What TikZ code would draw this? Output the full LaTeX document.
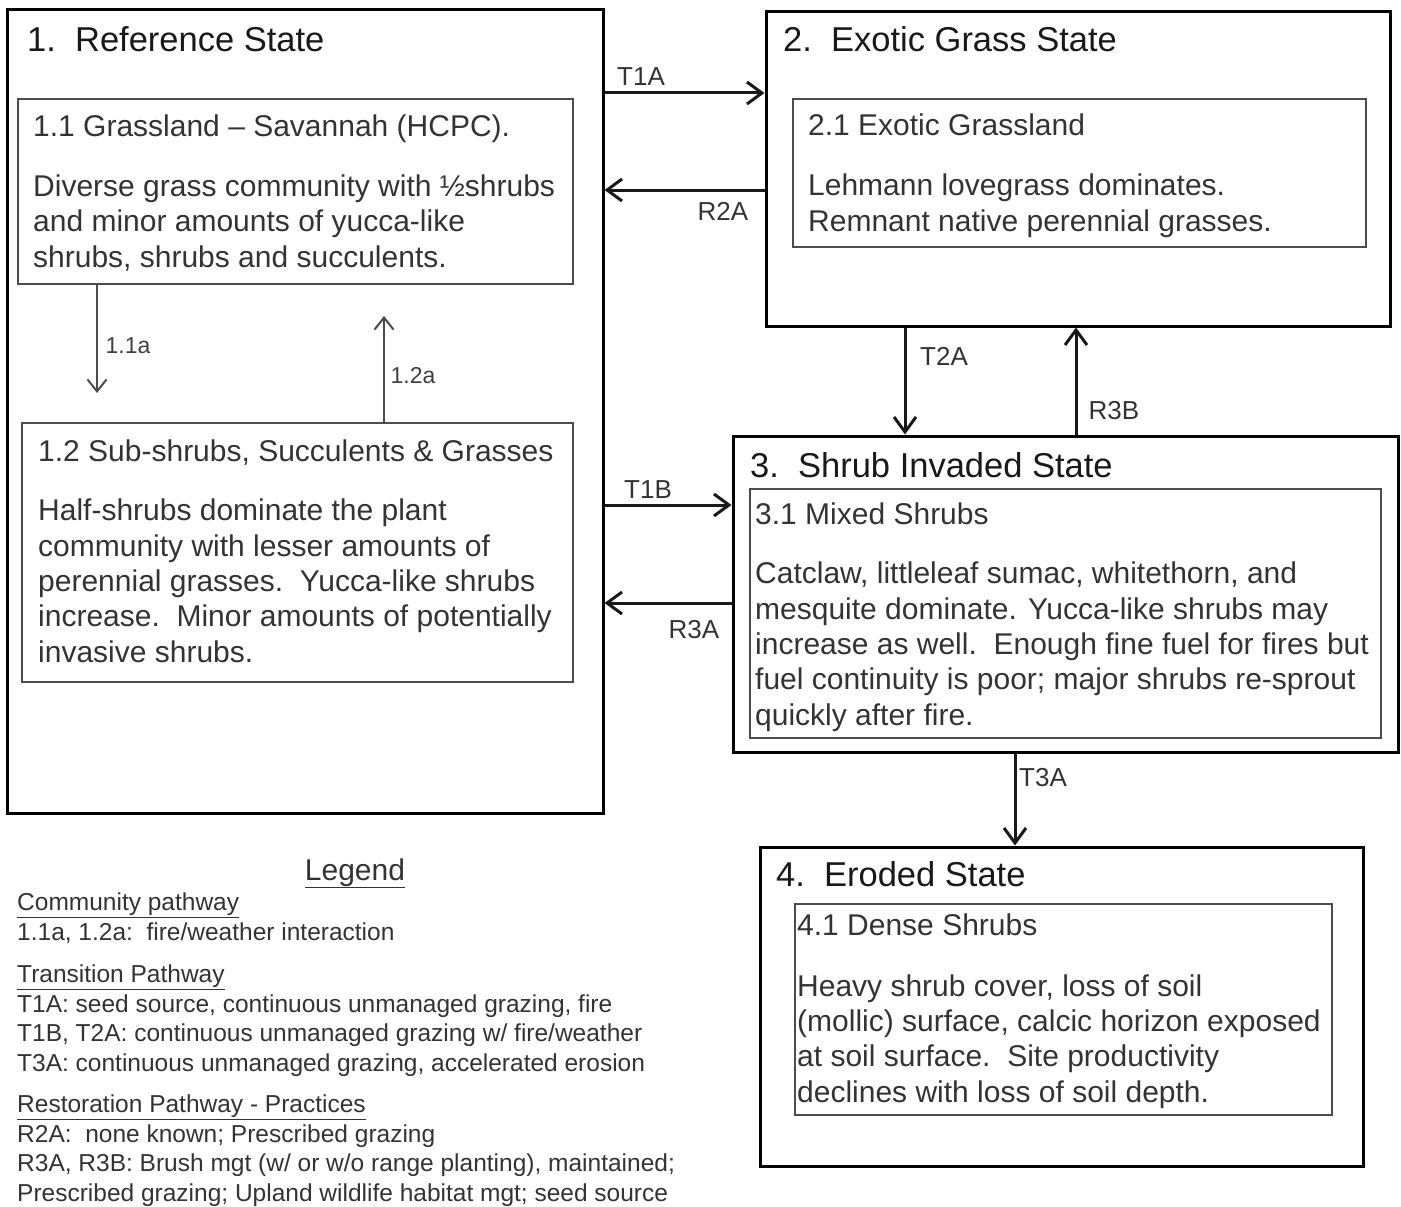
\documentclass[tikz,border=0pt]{standalone}
\usepackage{fontspec}
\setmainfont{Liberation Sans}
\usepackage{tikz}
\usetikzlibrary{calc}
\usetikzlibrary{positioning}
\usetikzlibrary{arrows.meta}

\begin{document}
\begin{tikzpicture}[x=1pt, y=-1pt,
        statebox/.style={draw=black, line width=3pt, inner sep=0pt},
        phasebox/.style={draw=black!70, line width=2pt, inner sep=0pt},
        statetitle/.style={anchor=base west, inner sep=0pt, text=black!90, font=\fontsize{34.5}{40}\selectfont},
        phasetext/.style={anchor=base west, align=left, inner sep=0pt, text=black!80, font=\fontsize{30}{35.3}\selectfont},
        transarrow/.style={-{Straight Barb[length=15pt, width=22pt]}, line width=3pt, draw=black!90},
        patharrow/.style={-{Straight Barb[length=12pt, width=19pt]}, line width=2pt, draw=black!70},
        translabel/.style={inner sep=0pt, text=black!80, font=\fontsize{26}{30}\selectfont},
        pathlabel/.style={inner sep=0pt, text=black!75, font=\fontsize{23}{27}\selectfont},
        legendtext/.style={anchor=base west, align=left, inner sep=0pt, text=black!80, font=\fontsize{24.5}{29.5}\selectfont}]
        \useasboundingbox (0,0) rectangle (1401,1207);

        % states
        \node (s1) at (305,411.5) [statebox, minimum width=596pt, minimum height=803pt] {};
        \node (s2) at (1078,169) [statebox, minimum width=624pt, minimum height=314pt] {};
        \node (s3) at (1065.5,594) [statebox, minimum width=665pt, minimum height=316pt] {};
        \node (s4) at (1061.5,1006.5) [statebox, minimum width=603pt, minimum height=319pt] {};

        \node (t1) at (27,52) [statetitle] {1.\ \ Reference State};
        \node (t2) at (783,52) [statetitle] {2.\ \ Exotic Grass State};
        \node (t3) at (750,477) [statetitle] {3.\ \ Shrub Invaded State};
        \node (t4) at (776,886) [statetitle] {4.\ \ Eroded State};

        % community phases
        \node (b11) at (295.5,191.5) [phasebox, minimum width=555pt, minimum height=185pt] {};
        \node (b12) at (297.5,552.5) [phasebox, minimum width=551pt, minimum height=259pt] {};
        \node (b21) at (1079.5,173) [phasebox, minimum width=573pt, minimum height=148pt] {};
        \node (b31) at (1065.5,613.5) [phasebox, minimum width=631pt, minimum height=249pt] {};
        \node (b41) at (1063.5,1009.5) [phasebox, minimum width=537pt, minimum height=211pt] {};

        % (text nodes sit on the baseline of their last line)
        \node (d11) at (33,267) [phasetext] {1.1 Grassland – Savannah (HCPC).\\[24.5pt]
            Diverse grass community with ½shrubs\\ and minor amounts of yucca-like\\ shrubs, shrubs and succulents.};
        \node (d12) at (38,662) [phasetext] {1.2 Sub-shrubs, Succulents \& Grasses\\[24.5pt]
            Half-shrubs dominate the plant\\ community with lesser amounts of\\ perennial grasses.\ \ Yucca-like shrubs\\
            increase.\ \ Minor amounts of potentially\\ invasive shrubs.};
        \node (d21) at (808,231) [phasetext] {2.1 Exotic Grassland\\[24.5pt]
            Lehmann lovegrass dominates.\\ Remnant native perennial grasses.};
        \node (d31) at (755,725) [phasetext] {3.1 Mixed Shrubs\\[24pt]
            Catclaw, littleleaf sumac, whitethorn, and\\ mesquite dominate. Yucca-like shrubs may\\
            increase as well.\ \ Enough fine fuel for fires but\\ fuel continuity is poor; major shrubs re-sprout\\
            quickly after fire.};
        \node (d41) at (797,1102) [phasetext] {4.1 Dense Shrubs\\[25.5pt]
            Heavy shrub cover, loss of soil\\ (mollic) surface, calcic horizon exposed\\
            at soil surface.\ \ Site productivity\\ declines with loss of soil depth.};

        % free ends of the community pathways
        \coordinate (c11) at (97,393);
        \coordinate (c12) at (384,316);

        % connections
        \draw[transarrow] (s1.east |- 0,93) -- (s2.west |- 0,93);
        \draw[transarrow] (s2.west |- 0,190) -- (s1.east |- 0,190);
        \draw[transarrow] (s1.east |- 0,505) -- (s3.west |- 0,505);
        \draw[transarrow] (s3.west |- 0,603) -- (s1.east |- 0,603);
        \draw[transarrow] (s2.south -| 905,0) -- (s3.north -| 905,0);
        \draw[transarrow] (s3.north -| 1076,0) -- (s2.south -| 1076,0);
        \draw[transarrow] (s3.south -| 1015,0) -- (s4.north -| 1015,0);
        \draw[patharrow] (b11.south -| c11) -- (c11);
        \draw[patharrow] (b12.north -| c12) -- (c12);

        % labels
        \node (l1) at (641,77) [translabel] {T1A};
        \node (l2) at (723,211) [translabel] {R2A};
        \node (l3) at (648,490) [translabel] {T1B};
        \node (l4) at (694,630) [translabel] {R3A};
        \node (l5) at (944,356) [translabel] {T2A};
        \node (l6) at (1114,411) [translabel] {R3B};
        \node (l7) at (1043,778) [translabel] {T3A};
        \node (l8) at (128,346) [pathlabel] {1.1a};
        \node (l9) at (413,376) [pathlabel] {1.2a};

        % legend
        \node (leg) at (355,880) [anchor=base, inner sep=0pt, text=black!80, font=\fontsize{30}{34}\selectfont] {\underline{Legend}};
        \node (legtext) at (17,1201) [legendtext] {\underline{Community pathway}\\
            1.1a, 1.2a:\ \ fire/weather interaction\\[13pt]
            \underline{Transition Pathway}\\
            T1A: seed source, continuous unmanaged grazing, fire\\
            T1B, T2A: continuous unmanaged grazing w/ fire/weather\\
            T3A: continuous unmanaged grazing, accelerated erosion\\[12pt]
            \underline{Restoration Pathway - Practices}\\
            R2A:\ \ none known; Prescribed grazing\\
            R3A, R3B: Brush mgt (w/ or w/o range planting), maintained;\\
            Prescribed grazing; Upland wildlife habitat mgt; seed source};
    \end{tikzpicture}
\end{document}
